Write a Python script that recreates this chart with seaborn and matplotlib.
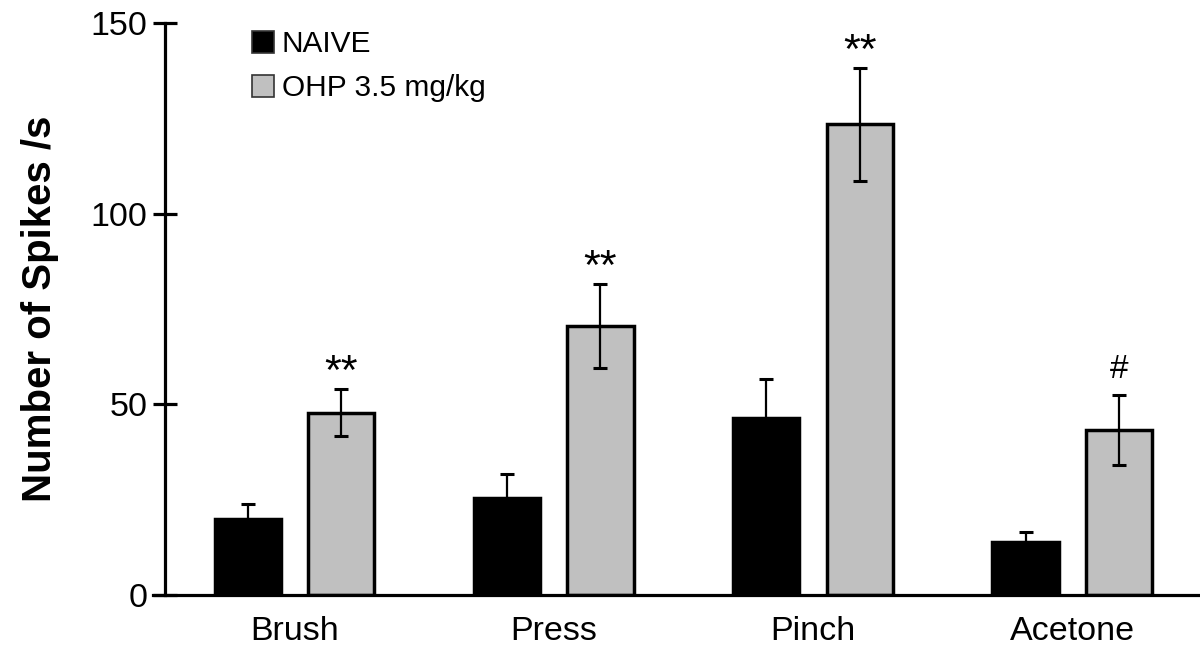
import matplotlib
matplotlib.use('Agg')
import matplotlib.pyplot as plt
import seaborn as sns
import pandas as pd
import numpy as np

# valores
estimulos = ['Brush', 'Press', 'Pinch', 'Acetone']
grupos = ['NAIVE', 'OHP 3.5 mg/kg']
naive_media = [19.9, 25.5, 46.3, 13.8]
naive_error = [4.0, 6.1, 10.3, 2.8]
ohp_media = [47.8, 70.5, 123.4, 43.3]
ohp_error = [6.2, 11.1, 14.8, 9.1]
marcas = ['**', '**', '**', '#']

df = pd.DataFrame({
    'estimulo': estimulos * 2,
    'grupo': [grupos[0]] * 4 + [grupos[1]] * 4,
    'valor': naive_media + ohp_media,
})

sns.set_style('white')
plt.rcParams['font.family'] = ['Liberation Sans', 'DejaVu Sans']
plt.rcParams['text.color'] = 'black'
plt.rcParams['axes.labelcolor'] = 'black'
plt.rcParams['xtick.color'] = 'black'
plt.rcParams['ytick.color'] = 'black'

fig = plt.figure(figsize=(12, 6.54), dpi=100)
ax = fig.add_axes([153 / 1200, 1 - 595 / 654, 1 - 153 / 1200, (595 - 23) / 654])

sns.barplot(data=df, x='estimulo', y='valor', hue='grupo', order=estimulos,
            hue_order=grupos, palette=['black', '#c0c0c0'], errorbar=None,
            width=0.72, gap=0.29, edgecolor='black', linewidth=2.5,
            saturation=1, ax=ax)

# barras de error y marcas de significacion
for cont, errores in zip(ax.containers, [naive_error, ohp_error]):
    xs = [p.get_x() + p.get_width() / 2 for p in cont.patches]
    hs = [p.get_height() for p in cont.patches]
    ax.errorbar(xs, hs, yerr=errores, fmt='none', ecolor='black',
                elinewidth=1.6, capsize=5, capthick=2.2, zorder=5)
    if errores is ohp_error:
        for x, h, e, m in zip(xs, hs, errores, marcas):
            if m == '#':
                ax.text(x, h + e + 6.8, m, ha='center', va='center',
                        fontsize=24, clip_on=False)
            else:
                ax.text(x, h + e + 4.2, m, ha='center', va='center',
                        fontsize=31, clip_on=False)

ax.set_xlim(-0.546, 3.493)
ax.set_ylim(0, 150)
ax.set_yticks([0, 50, 100, 150])
ax.spines['left'].set_position(('data', -0.4996))
ax.spines['left'].set_bounds(0, 150)
ax.spines['right'].set_visible(False)
ax.spines['top'].set_visible(False)
for s in ['left', 'bottom']:
    ax.spines[s].set_linewidth(2.3)
    ax.spines[s].set_color('black')

ax.tick_params(axis='y', direction='inout', length=17, width=2.3,
               labelsize=24.5, pad=4, left=True)
ax.tick_params(axis='x', length=0, labelsize=24.5, pad=15)
ax.set_xlabel('')
ax.set_ylabel('Number of Spikes /s', fontsize=29, fontweight='bold')
ax.yaxis.label.set_va('center')
ax.yaxis.set_label_coords((40 - 153) / 1047, 0.5)

handles, labels = ax.get_legend_handles_labels()
for h in handles:
    h.set_linewidth(1.2)
    h.set_edgecolor('#333333')
ax.legend(handles, labels, loc='upper left',
          bbox_to_anchor=(252 / 1200, 1 - 30 / 654),
          bbox_transform=fig.transFigure, frameon=False, fontsize=21.5,
          handlelength=0.75, handleheight=0.75, handletextpad=0.25,
          labelspacing=0.55, borderpad=0, borderaxespad=0)

fig.savefig('out.png', dpi=100)
